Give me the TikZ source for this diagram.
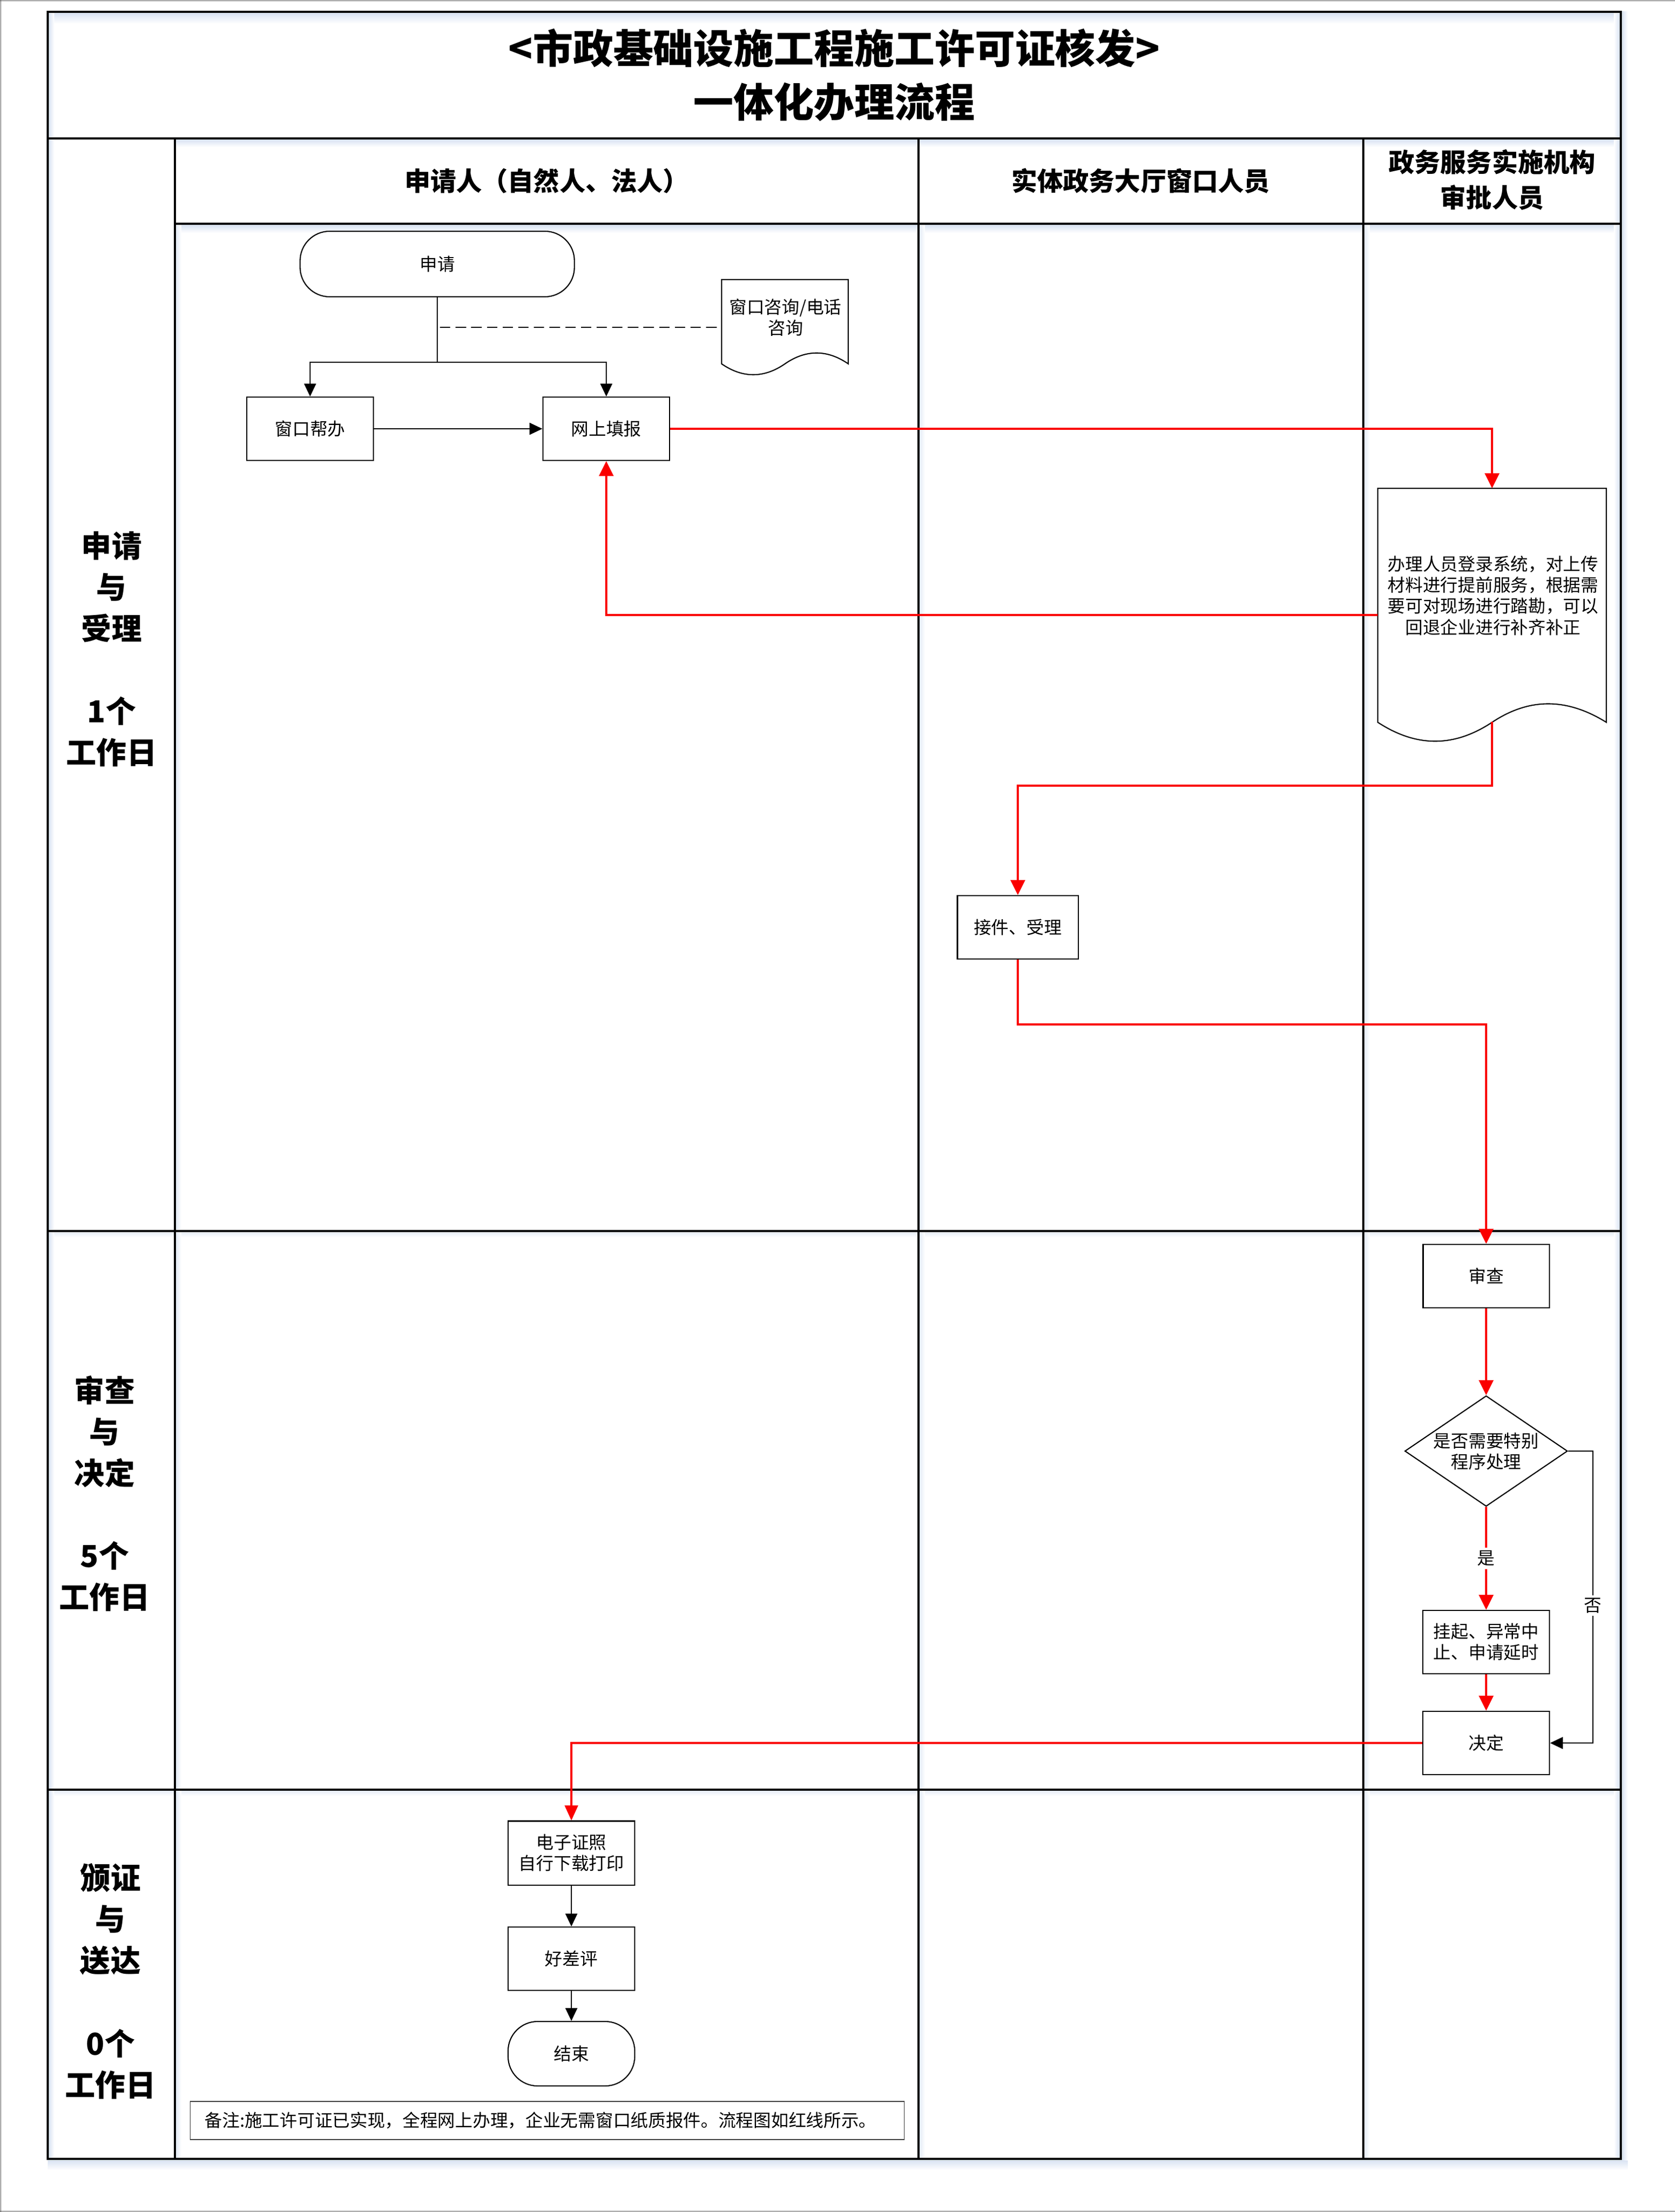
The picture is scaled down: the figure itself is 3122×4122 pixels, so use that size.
\documentclass[tikz,border=0pt]{standalone}
\usepackage{fontspec}
\newfontfamily\cjk{Noto Sans CJK SC}
\usetikzlibrary{arrows.meta,shapes.geometric}
\definecolor{glow}{RGB}{216,226,242}
\definecolor{flowred}{RGB}{250,0,0}
\begin{document}
\begin{tikzpicture}[x=0.01cm,y=-0.01cm,
  boxfont/.style={font=\cjk\fontsize{9.3pt}{11.1pt}\selectfont},
  box/.style={draw, line width=0.6pt, fill=white, minimum width=2.36cm, minimum height=1.18cm, inner sep=0pt, align=center, boxfont},
  term/.style={box, rounded corners=0.55cm},
  lane/.style={line width=0.9pt},
  frame/.style={line width=1.1pt},
  hdr/.style={align=center, font=\cjk\bfseries\fontsize{13.7pt}{18.8pt}\selectfont},
  phase/.style={align=center, font=\cjk\bfseries\fontsize{16pt}{21.9pt}\selectfont},
  titlefont/.style={align=center, font=\cjk\bfseries\fontsize{21.3pt}{28.45pt}\selectfont},
  blkarr/.style={draw=black, line width=0.6pt, -{Triangle[length=6.8pt,width=6.3pt]}},
  redarr/.style={draw=flowred, line width=1.2pt, -{Triangle[length=8pt,width=7.6pt]}},
  redthin/.style={draw=flowred, line width=1.0pt, -{Triangle[length=8pt,width=7pt]}},
  lbl/.style={fill=white, inner sep=1.5pt, boxfont}
]
\useasboundingbox (0,0) rectangle (3122,4122);
% page edge lines
\draw[line width=0.5pt, black!70] (0,1.5) -- (3122,1.5);
\draw[line width=0.5pt, black!70] (1.5,0) -- (1.5,4122);
\draw[line width=0.5pt, black!70] (0,4120.5) -- (3122,4120.5);

% glow bands
\shade[top color=glow, bottom color=white] (91,24) rectangle (3019,44);
\shade[top color=glow, bottom color=white] (328,260) rectangle (3019,274);
\shade[top color=glow, bottom color=white] (328,419) rectangle (3019,434);
\shade[top color=glow!60, bottom color=white] (91,2296) rectangle (3019,2306);
\shade[top color=glow!60, bottom color=white] (91,3337) rectangle (3019,3347);
\shade[top color=glow, bottom color=white] (89,4025) rectangle (3034,4044);
\shade[left color=glow, right color=white] (3023,22) rectangle (3034,4025);
\shade[left color=glow, right color=white] (91,24) rectangle (101,4021);
\shade[left color=white, right color=glow] (3008,24) rectangle (3019,4021);
\shade[left color=glow!70, right color=white] (328,419) rectangle (338,4021);
\shade[left color=glow!70, right color=white] (1714,419) rectangle (1724,4021);
\shade[left color=glow!70, right color=white] (2543,419) rectangle (2553,4021);

% frame and lanes
\draw[frame] (89,22) rectangle (3021,4023);
\draw[lane] (89,258) -- (3021,258);
\draw[lane] (326,417) -- (3021,417);
\draw[lane] (326,258) -- (326,4023);
\draw[lane] (1712,258) -- (1712,4023);
\draw[lane] (2541,258) -- (2541,4023);
\draw[lane] (89,2294) -- (3021,2294);
\draw[lane] (89,3335) -- (3021,3335);

% title and headers
\node[titlefont] (title) at (1555,140) {<市政基础设施工程施工许可证核发>\\一体化办理流程};
\node[hdr] (h1) at (1019,337) {申请人（自然人、法人）};
\node[hdr] (h2) at (2126,337) {实体政务大厅窗口人员};
\node[hdr] (h3) at (2781,335) {政务服务实施机构\\审批人员};

% phase labels
\node[phase] (ph1) at (208,1210) {申请\\与\\受理\\\mbox{}\\1个\\工作日};
\node[phase] (ph2) at (195,2783) {审查\\与\\决定\\\mbox{}\\5个\\工作日};
\node[phase] (ph3) at (206,3692) {颁证\\与\\送达\\\mbox{}\\0个\\工作日};

% applicant lane
\node[term, minimum width=5.11cm, minimum height=1.22cm] (sq) at (815,492) {申请};
\draw[line width=0.6pt, fill=white] (1345,678) -- (1345,521) -- (1581,521) -- (1581,678)
  .. controls (1542,651) and (1502,651) .. (1463,678)
  .. controls (1424,705) and (1384,705) .. (1345,678) -- cycle;
\node[boxfont, align=center] (zx) at (1464,592) {窗口咨询/电话\\咨询};
\coordinate (zxw) at (1345,610);
\coordinate (dashs) at (820,610);
\node[box, minimum width=2.35cm] (bb) at (578,799) {窗口帮办};
\node[box] (ws) at (1130,799) {网上填报};

% document node of approver
\draw[line width=0.6pt, fill=white] (2568,1346) -- (2568,910) -- (2994,910) -- (2994,1346)
  .. controls (2920,1300) and (2850,1300) .. (2781,1346)
  .. controls (2710,1393) and (2640,1393) .. (2568,1346) -- cycle;
\node[boxfont, align=center] (doc) at (2783,1110) {办理人员登录系统，对上传\\材料进行提前服务，根据需\\要可对现场进行踏勘，可以\\回退企业进行补齐补正};
\coordinate (docin) at (2781,910);
\coordinate (docleft) at (2568,1146);
\coordinate (docout) at (2781,1345);

\node[box, minimum width=2.25cm] (jj) at (1897,1728) {接件、受理};
\node[box, minimum width=2.35cm] (sc) at (2770,2378) {审查};
\node[diamond, draw, line width=0.6pt, fill=white, minimum width=3.03cm, minimum height=2.06cm, inner sep=0pt] (dm) at (2770,2704) {};
\node[boxfont, align=center] (dmt) at (2770,2705) {是否需要特别\\程序处理};
\node[box] (gq) at (2770,3060) {挂起、异常中\\止、申请延时};
\node[box] (jd) at (2770,3248) {决定};

\node[box, minimum height=1.19cm] (dz) at (1065,3453) {电子证照\\自行下载打印};
\node[box] (hc) at (1065,3650) {好差评};
\node[term, minimum height=1.2cm] (js) at (1065,3827) {结束};
\node[draw=black!75, line width=0.5pt, fill=white, minimum width=13.3cm, minimum height=0.71cm, inner sep=0pt] (bz) at (1020,3951.5) {};
\node[boxfont, anchor=west, inner sep=0pt] (bzt) at (381,3951.5) {备注:施工许可证已实现，全程网上办理，企业无需窗口纸质报件。流程图如红线所示。};

% connectors
\coordinate (split) at (815,675);
\draw[line width=0.6pt] (sq.south) -- (split);
\draw[blkarr] (split) -| (bb.north);
\draw[blkarr] (split) -| (ws.north);
\draw[line width=0.6pt, dash pattern=on 5.5pt off 2.8pt] (dashs) -- (zxw);
\draw[blkarr] (bb.east) -- (ws.west);
\draw[redarr] (ws.east) -| (docin);
\draw[redarr] (docleft) -| (ws.south);
\draw[redarr] (docout) -- ++(0,119) -| (jj.north);
\draw[redarr] (jj.south) -- ++(0,121) -| (sc.north);
\draw[redarr] (sc.south) -- (dm.north);
\draw[redarr] (dm.south) -- node[lbl] (yes) {是} (gq.north);
\draw[redarr] (gq.south) -- (jd.north);
\draw[blkarr] (dm.east) -- ++(46,0) |- (jd.east);
\node[lbl] (no) at (2969,2992) {否};
\draw[redthin] (jd.west) -| (dz.north);
\draw[blkarr] (dz.south) -- (hc.north);
\draw[blkarr] (hc.south) -- (js.north);
\end{tikzpicture}
\end{document}
